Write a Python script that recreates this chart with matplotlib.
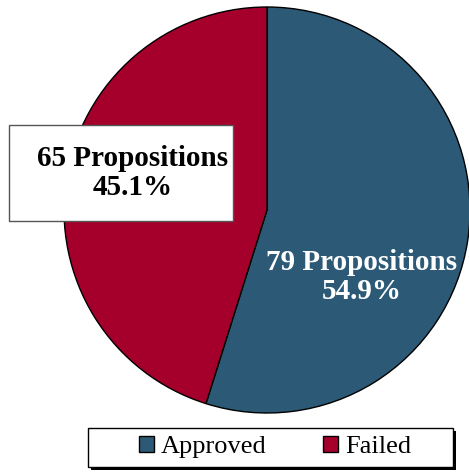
import matplotlib
matplotlib.use("Agg")
import matplotlib.pyplot as plt
from matplotlib.patches import Rectangle

# data
labels = ["Approved", "Failed"]
counts = [79, 65]
colors = ["#2C5A76", "#A5002B"]

W, H = 469, 472
fig = plt.figure(figsize=(W / 100, H / 100), dpi=100)
ax = fig.add_axes([0, 0, 1, 1])

wedges, _ = ax.pie(counts, colors=colors, startangle=90, counterclock=False,
                   center=(267, H - 210), radius=203, frame=True,
                   wedgeprops=dict(edgecolor="black", linewidth=1))
ax.set_xlim(0, W)
ax.set_ylim(0, H)
ax.set_aspect("auto")
ax.axis("off")

total = sum(counts)
pct = [100 * c / total for c in counts]
font = "Liberation Serif"

# approved label, inside the slice
ax.text(362, H - 277, f"{counts[0]} Propositions\n{pct[0]:.1f}%", color="white",
        fontsize=21, fontweight="bold", family=font, ha="center", va="center",
        linespacing=1.1)

# failed label in a box
ax.add_patch(Rectangle((9, H - 221), 224, 96, facecolor="white",
                       edgecolor="#555555", linewidth=1, zorder=3))
ax.text(133, H - 173, f"{counts[1]} Propositions\n{pct[1]:.1f}%", color="black",
        fontsize=21, fontweight="bold", family=font, ha="center", va="center",
        linespacing=1.1, zorder=4)

# legend frame with shadow
ax.add_patch(Rectangle((91, H - 470), 365, 39, facecolor="black",
                       edgecolor="none", zorder=3))
ax.add_patch(Rectangle((88, H - 467), 365, 39, facecolor="white",
                       edgecolor="black", linewidth=1, zorder=4))
leg = ax.legend(wedges, labels, loc="center", bbox_to_anchor=(275 / W, 1 - 447 / H),
                ncol=2, frameon=False, prop=dict(family=font, size=19),
                handlelength=0.57, handleheight=0.57, handletextpad=0.25,
                columnspacing=2.15)
leg.set_zorder(5)

fig.savefig("out.png", dpi=100)
